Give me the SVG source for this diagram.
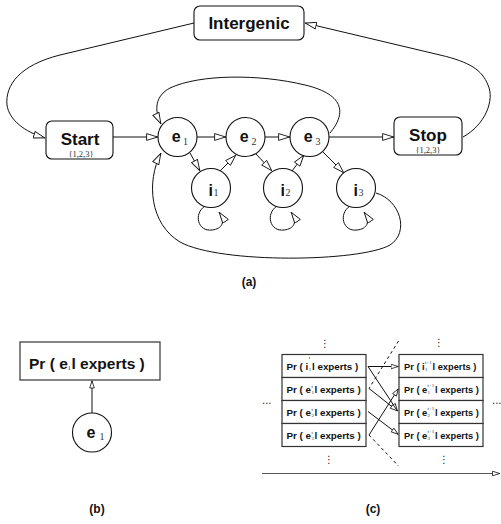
<svg xmlns="http://www.w3.org/2000/svg" width="501" height="524" viewBox="0 0 501 524">
<defs>
<marker id="arr" markerUnits="userSpaceOnUse" viewBox="0 0 12 8" markerWidth="12" markerHeight="8" refX="12" refY="4" orient="auto">
<path d="M0.6,0.6 L11.6,4 L0.6,7.4 z" fill="#fff" stroke="#111" stroke-width="0.9"/>
</marker>
<marker id="arrs" markerUnits="userSpaceOnUse" viewBox="0 0 8 6" markerWidth="8" markerHeight="6" refX="8" refY="3" orient="auto">
<path d="M0.5,0.7 L7.6,3 L0.5,5.3 z" fill="#fff" stroke="#111" stroke-width="0.8"/>
</marker>
<style>
.box{fill:#fff;stroke:#111;stroke-width:1.1}
.nd{fill:#fff;stroke:#111;stroke-width:1.1}
.ln{fill:none;stroke:#111;stroke-width:1}
.ar{fill:none;stroke:#111;stroke-width:1;marker-end:url(#arr)}
.as{fill:none;stroke:#111;stroke-width:1;marker-end:url(#arrs)}
.ds{fill:none;stroke:#111;stroke-width:1;stroke-dasharray:3,3}
.t{font-family:"Liberation Sans",Arial,sans-serif;font-weight:bold;fill:#111}
.s{font-family:"Liberation Serif","Times New Roman",serif;fill:#333}
.bx{fill:#fff;stroke:#333;stroke-width:1.2}
.dt{font-family:"DejaVu Sans",sans-serif;font-size:10px;fill:#222}
</style>
</defs>
<g id="connectors">
<path class="ar" d="M194,23 L60,55 C20,65 5,85 7,105 C9,120 25,132 45,138"/>
<path class="ar" d="M463,137 C485,125 495,100 488,85 C482,70 470,62 440,55 L305,23"/>
<path class="ar" d="M113,137 L158,137"/>
<path class="ar" d="M197,137 L226,137"/>
<path class="ar" d="M265,137 L290,137"/>
<path class="ar" d="M329,137 L394,137"/>
<path class="ar" d="M190,153 L200,171"/>
<path class="ar" d="M220,171 L236,155"/>
<path class="ar" d="M256,154 L272,171"/>
<path class="ar" d="M292,171 L304,155"/>
<path class="ar" d="M323,152 L344,173"/>
<path class="ar" d="M330,133 C345,115 347,95 305,85 C260,74 200,74 170,88 C155,96 154,110 161,124"/>
<path class="ar" d="M376,193 C400,200 410,232 390,245 C360,262 220,264 180,242 C150,224 146,182 161,153"/>
<path class="ar" d="M205,206 C193,214 198,232 212,230 C222,229 226,222 219,212"/>
<path class="ar" d="M277,206 C265,214 270,232 284,230 C294,229 298,222 291,212"/>
<path class="ar" d="M350,206 C338,214 343,232 357,230 C367,229 371,222 364,212"/>
<path class="as" d="M92,413 L92,380.5"/>
<path class="as" d="M368,366.5 L398.5,366.5"/>
<path class="as" d="M368,366.5 L397.5,411"/>
<path class="as" d="M369,388.5 L397.5,411"/>
<path class="as" d="M368,411.5 L398.5,434.5"/>
<path class="as" d="M369,435 L398.5,388.5"/>
<path class="ds" d="M398.5,341 L369,388.5"/>
<path class="ds" d="M369,435 L398.5,466"/>
<path fill="none" stroke="#555" stroke-width="1.2" marker-end="url(#arrs)" d="M262,473.5 L500,473.5"/>
</g>
<g id="intergenic"><rect class="box" x="194" y="6" width="110" height="34" rx="6"/><text class="t" x="249" y="28.5" font-size="17" text-anchor="middle">Intergenic</text></g>
<g id="start"><rect class="box" x="46" y="121" width="67" height="38" rx="6"/><text class="t" x="80" y="145" font-size="17" text-anchor="middle">Start</text><text class="s" x="81" y="156.5" font-size="8.5" text-anchor="middle">{1,2,3}</text></g>
<g id="stop"><rect class="box" x="394" y="117" width="68" height="38" rx="6"/><text class="t" x="428" y="141" font-size="17" text-anchor="middle">Stop</text><text class="s" x="428" y="152.5" font-size="8.5" text-anchor="middle">{1,2,3}</text></g>
<g id="e1"><circle class="nd" cx="177.5" cy="137" r="19.5"/><text class="t" x="171.7" y="142" font-size="16">e</text><text class="s" x="183" y="144.5" font-size="10">1</text></g>
<g id="e2"><circle class="nd" cx="245.5" cy="137" r="19.5"/><text class="t" x="239.7" y="142" font-size="16">e</text><text class="s" x="251.5" y="144.5" font-size="10">2</text></g>
<g id="e3"><circle class="nd" cx="309.5" cy="137" r="19.5"/><text class="t" x="303.7" y="142" font-size="16">e</text><text class="s" x="315.5" y="144.5" font-size="10">3</text></g>
<g id="i1"><circle class="nd" cx="211" cy="188" r="19.5"/><text class="t" x="208.5" y="195.5" font-size="16">i</text><text class="s" x="213.5" y="195.5" font-size="10">1</text></g>
<g id="i2"><circle class="nd" cx="283" cy="188" r="19.5"/><text class="t" x="280.5" y="195.5" font-size="16">i</text><text class="s" x="285.5" y="195.5" font-size="10">2</text></g>
<g id="i3"><circle class="nd" cx="356" cy="188" r="19.5"/><text class="t" x="353.5" y="195.5" font-size="16">i</text><text class="s" x="358.5" y="195.5" font-size="10">3</text></g>
<text class="t" x="249" y="286" font-size="12" text-anchor="middle">(a)</text>
<g id="b-box"><rect class="bx" x="20" y="342" width="140" height="38"/><text class="t" x="29" y="368.5" font-size="15.5">Pr ( e</text><text class="s" x="67.5" y="370" font-size="7">1</text><text class="t" x="71.5" y="368.5" font-size="15.5">l experts )</text></g>
<g id="b-e1"><circle class="nd" cx="92" cy="432.5" r="19.5"/><text class="t" x="86.5" y="437.5" font-size="16">e</text><text class="s" x="99.5" y="439.5" font-size="10">1</text></g>
<text class="t" x="97" y="513" font-size="12" text-anchor="middle">(b)</text>
<g id="c-left">
<rect class="bx" x="282" y="354.5" width="84" height="23"/>
<rect class="bx" x="282" y="377.5" width="84" height="23"/>
<rect class="bx" x="282" y="400.5" width="84" height="23"/>
<rect class="bx" x="282" y="423.5" width="84" height="23"/>
<text class="t" x="286.5" y="370" font-size="9.8">Pr ( i</text><text class="s" x="308.8" y="359" font-size="5">t</text><text class="s" x="308.8" y="371" font-size="5">1</text><text class="t" x="312" y="370" font-size="9.8">l experts )</text>
<text class="t" x="286.5" y="393" font-size="9.8">Pr ( e</text><text class="s" x="311.5" y="388" font-size="5">t</text><text class="s" x="311.5" y="394" font-size="5">1</text><text class="t" x="314.5" y="393" font-size="9.8">l experts )</text>
<text class="t" x="286.5" y="416" font-size="9.8">Pr ( e</text><text class="s" x="311.5" y="411" font-size="5">t</text><text class="s" x="311.5" y="417" font-size="5">2</text><text class="t" x="314.5" y="416" font-size="9.8">l experts )</text>
<text class="t" x="286.5" y="439" font-size="9.8">Pr ( e</text><text class="s" x="311.5" y="434" font-size="5">t</text><text class="s" x="311.5" y="440" font-size="5">3</text><text class="t" x="314.5" y="439" font-size="9.8">l experts )</text>
</g>
<g id="c-right">
<rect class="bx" x="399" y="354.5" width="84" height="23"/>
<rect class="bx" x="399" y="377.5" width="84" height="23"/>
<rect class="bx" x="399" y="400.5" width="84" height="23"/>
<rect class="bx" x="399" y="423.5" width="84" height="23"/>
<text class="t" x="404" y="370" font-size="9.3">Pr ( i</text><text class="s" x="425" y="364" font-size="5">t+1</text><text class="s" x="425" y="371" font-size="5">1</text><text class="t" x="432.5" y="370" font-size="9.3">l experts )</text>
<text class="t" x="404" y="393" font-size="9.3">Pr ( e</text><text class="s" x="427.5" y="387" font-size="5">t+1</text><text class="s" x="427.5" y="394" font-size="5">1</text><text class="t" x="435" y="393" font-size="9.3">l experts )</text>
<text class="t" x="404" y="416" font-size="9.3">Pr ( e</text><text class="s" x="427.5" y="410" font-size="5">t+1</text><text class="s" x="427.5" y="417" font-size="5">2</text><text class="t" x="435" y="416" font-size="9.3">l experts )</text>
<text class="t" x="404" y="439" font-size="9.3">Pr ( e</text><text class="s" x="427.5" y="433" font-size="5">t+1</text><text class="s" x="427.5" y="440" font-size="5">3</text><text class="t" x="435" y="439" font-size="9.3">l experts )</text>
</g>
<g id="c-dots">
<text class="dt" x="325" y="347" text-anchor="middle">⋮</text>
<text class="dt" x="439" y="346" text-anchor="middle">⋮</text>
<text class="dt" x="329" y="463" text-anchor="middle">⋮</text>
<text class="dt" x="444" y="463" text-anchor="middle">⋮</text>
<text class="dt" x="262" y="404">...</text>
<text class="dt" x="492" y="404">...</text>
</g>
<text class="t" x="373" y="513" font-size="12" text-anchor="middle">(c)</text>
</svg>
